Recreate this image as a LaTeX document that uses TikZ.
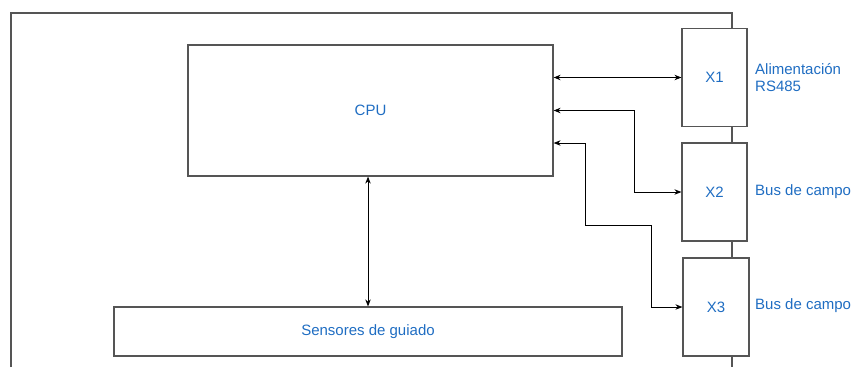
\documentclass[tikz,border=0pt]{standalone}
\usepackage{fontspec}
\setmainfont{Liberation Sans}
\usetikzlibrary{arrows.meta}
\definecolor{labelblue}{HTML}{1F6DC2}
\definecolor{edgegray}{HTML}{555555}
\begin{document}
\begin{tikzpicture}[x=1pt,y=-1pt,
  font=\fontsize{15}{17}\selectfont,
  box/.style={draw=edgegray, line width=1.2pt, inner sep=0pt, text=labelblue},
  lbl/.style={text=labelblue, anchor=west, align=left, inner sep=0pt},
  frame/.style={draw=edgegray, line width=1.2pt},
  biarrow/.style={draw=black, line width=0.9pt, {Stealth[length=7pt,width=5.5pt]}-{Stealth[length=7pt,width=5.5pt]}}]
\useasboundingbox (0,0) rectangle (853,367);

% blocks
\node[box, minimum width=365pt, minimum height=131pt] (cpu) at (370.5,110.5) {CPU};
\node[box, minimum width=508pt, minimum height=49pt] (sens) at (368,331.5) {Sensores de guiado};
\node[box, minimum width=65pt, minimum height=98.5pt] (x1) at (714.5,77.5) {X1};
\node[box, minimum width=65pt, minimum height=98pt] (x2) at (714.5,192) {X2};
\node[box, minimum width=66pt, minimum height=98pt] (x3) at (716,307) {X3};

% outer frame and connector bus
\coordinate (corner) at (11,13);
\coordinate (bus) at (732,13);
\draw[frame] (11,367) -- (corner) -- (bus) -- (bus |- x1.north);
\draw[frame] (bus |- x1.south) -- (bus |- x2.north);
\draw[frame] (bus |- x2.south) -- (bus |- x3.north);
\draw[frame] (bus |- x3.south) -- (732,367);

% labels
\node[lbl] (l1) at (755,78) {Alimentación\\RS485};
\node[lbl] (l2) at (755,192) {Bus de campo};
\node[lbl] (l3) at (755,306) {Bus de campo};

% links
\draw[biarrow] (cpu.east |- x1.west) -- (x1.west);
\draw[biarrow] (cpu.east) -- ++(81,0) |- (x2.west);
\draw[biarrow] ([yshift=-32.5pt]cpu.east) -- ++(32,0) -- ++(0,82) -- ++(66,0) |- (x3.west);
\draw[biarrow] (cpu.south -| sens.north) -- (sens.north);
\end{tikzpicture}
\end{document}
